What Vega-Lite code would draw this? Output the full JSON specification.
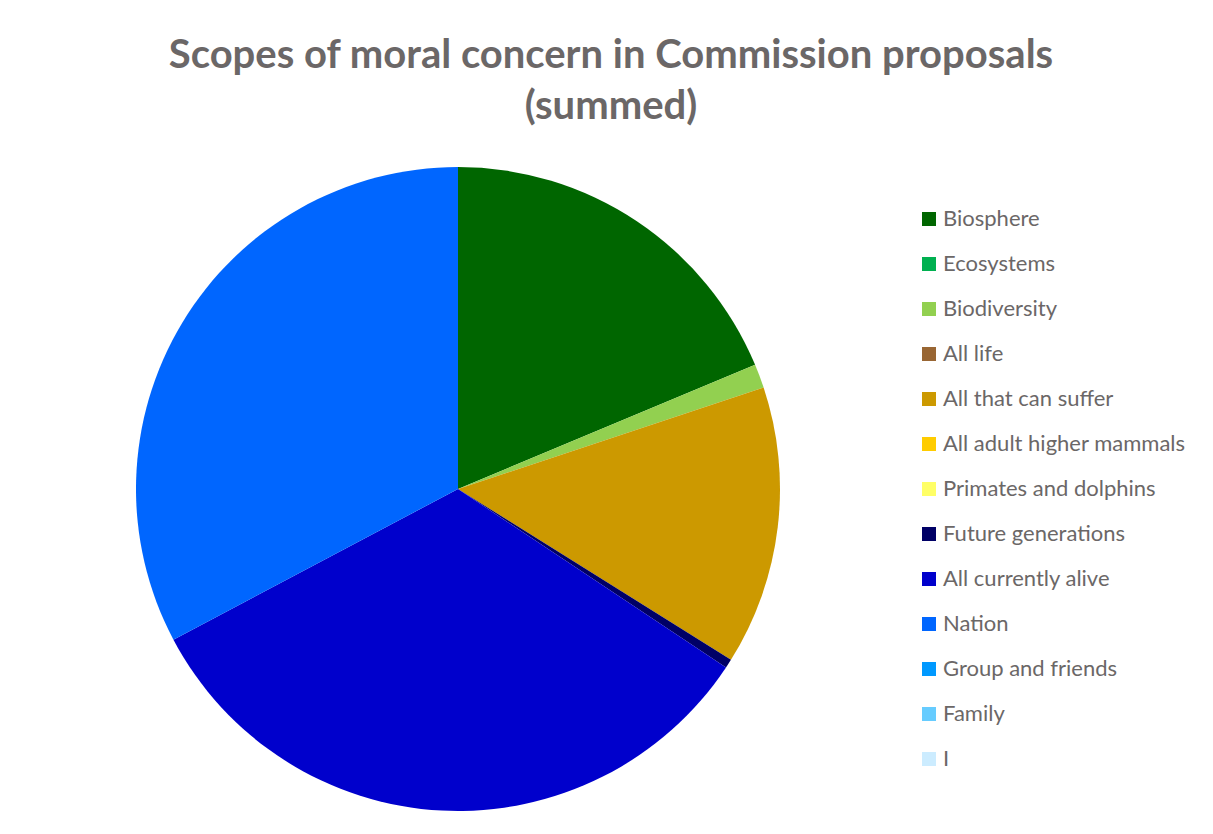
{
  "$schema": "https://vega.github.io/schema/vega-lite/v6.json",
  "autosize": "none",
  "width": 916,
  "height": 644,
  "padding": {"left": 0, "top": 167, "right": 297, "bottom": 23},
  "background": "white",
  "title": {
    "text": ["Scopes of moral concern in Commission proposals", "(summed)"],
    "font": "Lato",
    "fontSize": 40,
    "fontWeight": "bold",
    "color": "#6b6767",
    "anchor": "middle",
    "dx": 153,
    "offset": 40,
    "lineHeight": 51,
    "limit": 1200
  },
  "data": {
    "values": [
      {"scope": "Biosphere", "value": 18.7, "rank": 1},
      {"scope": "Ecosystems", "value": 0, "rank": 2},
      {"scope": "Biodiversity", "value": 1.2, "rank": 3},
      {"scope": "All life", "value": 0, "rank": 4},
      {"scope": "All that can suffer", "value": 14.0, "rank": 5},
      {"scope": "All adult higher mammals", "value": 0, "rank": 6},
      {"scope": "Primates and dolphins", "value": 0, "rank": 7},
      {"scope": "Future generations", "value": 0.45, "rank": 8},
      {"scope": "All currently alive", "value": 32.9, "rank": 9},
      {"scope": "Nation", "value": 32.75, "rank": 10},
      {"scope": "Group and friends", "value": 0, "rank": 11},
      {"scope": "Family", "value": 0, "rank": 12},
      {"scope": "I", "value": 0, "rank": 13}
    ]
  },
  "mark": {"type": "arc", "radius": 322, "strokeWidth": 0},
  "encoding": {
    "theta": {"field": "value", "type": "quantitative", "stack": true},
    "order": {"field": "rank", "type": "quantitative"},
    "color": {
      "field": "scope",
      "type": "nominal",
      "scale": {
        "domain": ["Biosphere", "Ecosystems", "Biodiversity", "All life", "All that can suffer", "All adult higher mammals", "Primates and dolphins", "Future generations", "All currently alive", "Nation", "Group and friends", "Family", "I"],
        "range": ["#006600", "#00B050", "#92D050", "#996633", "#CC9900", "#FFCC00", "#FFFF66", "#000066", "#0000CC", "#0066FF", "#0099FF", "#66CCFF", "#CCECFF"]
      },
      "legend": {
        "title": null,
        "orient": "none",
        "legendX": 918,
        "legendY": 41,
        "padding": 0,
        "symbolType": "square",
        "symbolSize": 196,
        "symbolStrokeWidth": 0,
        "labelFont": "Lato",
        "labelFontSize": 22,
        "labelColor": "#6b6767",
        "labelOffset": 3,
        "rowPadding": 23,
        "labelLimit": 400
      }
    }
  },
  "config": {"view": {"stroke": null}}
}
